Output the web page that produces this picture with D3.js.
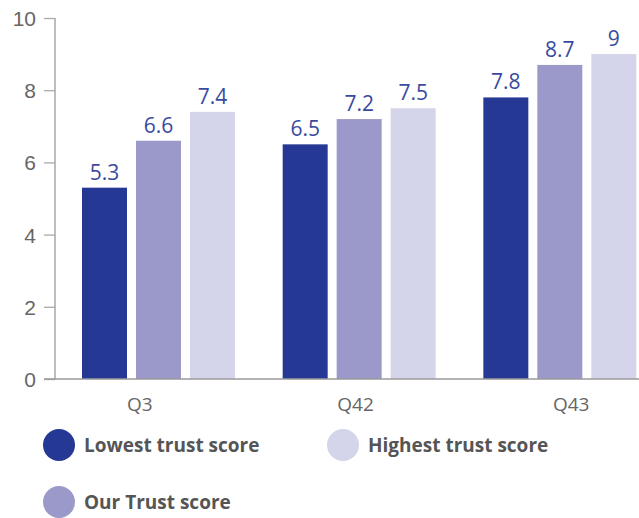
<!DOCTYPE html>
<html>
<head>
<meta charset="utf-8">
<script src="https://cdn.jsdelivr.net/npm/d3@7"></script>
<style>
  html, body { margin: 0; padding: 0; background: #fff; }
  svg { display: block; font-family: "Open Sans", "Noto Sans", sans-serif; }
</style>
</head>
<body>
<svg id="chart" width="639" height="518"></svg>
<script>
const categories = ["Q3", "Q42", "Q43"];
const seriesNames = ["Lowest trust score", "Our Trust score", "Highest trust score"];
const lowest = [5.3, 6.5, 7.8];
const ours = [6.6, 7.2, 8.7];
const highest = [7.4, 7.5, 9];
const yTicks = [0, 2, 4, 6, 8, 10];
const colors = ["#253893", "#9b99c9", "#d4d4ea"];

const seriesValues = [lowest, ours, highest];
const svg = d3.select("#chart");

const y = d3.scaleLinear().domain([0, 10]).range([379, 18]);
const x0 = d3.scaleBand().domain(categories).range([55, 657]).paddingInner(0).paddingOuter(0);
const x1 = d3.scaleBand().domain(seriesNames).range([27, 180]).paddingInner(1/6).paddingOuter(0);
const xLabel = d3.scaleBand().domain(categories).range([32, 679]);

// y axis
const yAxis = d3.axisLeft(y).tickValues(yTicks).tickSize(11).tickPadding(8).tickFormat(d3.format("d"));
const gy = svg.append("g").attr("transform", "translate(55,0)").call(yAxis);
gy.select(".domain").attr("stroke", "#9a9a9a").attr("stroke-width", 1.3).attr("d", "M0,18V379");
gy.selectAll(".tick line").attr("stroke", "#aaaaaa").attr("stroke-width", 1.3);
gy.selectAll(".tick text").attr("fill", "#666").style("font-size", "21px").attr("dy", "0.36em");

// bars
const groups = svg.append("g").selectAll("g").data(categories).join("g")
  .attr("transform", d => `translate(${x0(d)},0)`);
groups.selectAll("rect")
  .data((c, i) => seriesNames.map((s, j) => ({ s, j, v: seriesValues[j][i] })))
  .join("rect")
  .attr("x", d => x1(d.s))
  .attr("width", x1.bandwidth())
  .attr("y", d => y(d.v))
  .attr("height", d => y(0) - y(d.v))
  .attr("fill", d => colors[d.j]);
groups.selectAll("text.val")
  .data((c, i) => seriesNames.map((s, j) => ({ s, j, v: seriesValues[j][i] })))
  .join("text")
  .attr("class", "val")
  .attr("x", d => x1(d.s) + x1.bandwidth() / 2)
  .attr("y", d => y(d.v) - 8)
  .attr("text-anchor", "middle")
  .attr("fill", "#3a4a9f")
  .style("font-size", "21px")
  .text(d => d3.format("")(d.v));

// x axis
svg.append("line").attr("x1", 44).attr("x2", 639).attr("y1", 379).attr("y2", 379)
  .attr("stroke", "#9a9a9a").attr("stroke-width", 1.3);
svg.append("g").selectAll("text").data(categories).join("text")
  .attr("x", d => xLabel(d) + xLabel.bandwidth() / 2)
  .attr("y", 411)
  .attr("text-anchor", "middle")
  .attr("fill", "#666")
  .style("font-size", "19px")
  .text(d => d);

// legend
const legendPos = [[59, 445], [59, 502], [343, 445]];
const leg = svg.append("g").selectAll("g").data(seriesNames).join("g")
  .attr("transform", (d, i) => `translate(${legendPos[i][0]},${legendPos[i][1]})`);
leg.append("circle").attr("r", 16).attr("fill", (d, i) => colors[i]);
leg.append("text").attr("x", 25).attr("y", 0).attr("dy", "0.36em")
  .attr("fill", "#555").style("font-size", "19px").style("font-weight", "bold")
  .text(d => d);
</script>
</body>
</html>
